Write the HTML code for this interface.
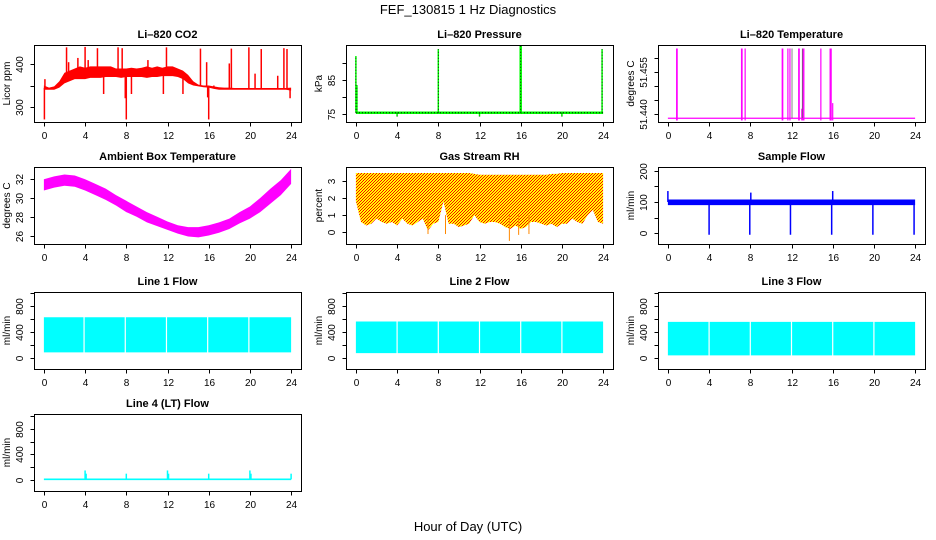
<!DOCTYPE html>
<html><head><meta charset="utf-8"><style>
html,body{margin:0;padding:0;background:#fff;}
svg{display:block;font-family:"Liberation Sans",Arial,sans-serif;}
</style></head><body>
<svg id="c" width="936" height="540" viewBox="0 0 936 540">
<defs>
<pattern id="rhpat" width="3" height="3" patternUnits="userSpaceOnUse">
<rect width="3" height="3" fill="#ffff00"/><rect x="0" y="0" width="1" height="1" fill="#ff0000"/><rect x="2" y="1" width="1" height="1" fill="#ff0000"/><rect x="1" y="2" width="1" height="1" fill="#ff0000"/>
</pattern>
</defs>
<text x="468" y="14" text-anchor="middle" font-size="13">FEF_130815  1 Hz Diagnostics</text>
<text x="468" y="531" text-anchor="middle" font-size="13">Hour of Day (UTC)</text>
</svg>
<script>
// ---- data ----
const hours = [0,4,8,12,16,20,24];
const halfHours = Array.from({length:49},(_, i)=>i*0.5);
const wholeHours = Array.from({length:25},(_, i)=>i);
const co2Lo = [340,340,340,345,355,360,365,365,365,368,368,368,370,370,370,368,370,370,370,370,368,370,370,372,372,372,370,365,355,350,348,346,345,342,340,340,340,340,340,340,340,340,340,340,340,340,340,340,338];
const co2Hi = [350,345,348,360,380,385,390,395,392,395,395,395,395,395,390,390,390,392,390,392,395,392,395,392,395,395,390,385,375,360,352,350,350,348,346,345,345,344,344,344,344,344,344,344,344,344,344,344,345];
const co2SpikeT = [0.05,0.1,2.2,2.4,3.3,4.0,4.3,5.2,5.8,7.2,7.6,7.9,8.0,8.5,10.1,11.6,11.9,13.5,15.2,15.8,15.9,16.0,16.5,18.0,18.2,19.9,20.5,21.1,22.7,23.3,23.6,23.9];
const co2SpikeV = [270,365,440,405,415,441,410,438,330,440,438,320,270,330,410,330,440,330,437,405,322,270,350,402,437,440,378,436,373,438,436,320];
const presBase = 75.5;
const presSpikeT = [0.0,0.1,8.0,16.0,23.9,4.0,12.0,20.0];
const presSpikeV = [92,83.5,94,95,94,74.4,74.4,74.4];
const tempBase = 51.4386;
const tempSpikeT = [0.85,0.9,7.15,7.2,7.5,11.1,11.15,11.65,11.85,12.7,12.75,13.0,13.1,13.2,14.85,15.75,15.8,15.85,16.0];
const tempSpikeV = [51.4635,51.4635,51.4635,51.4635,51.4635,51.4635,51.4635,51.4635,51.4635,51.4635,51.4635,51.4420,51.4635,51.4635,51.4635,51.4635,51.4635,51.4635,51.4440];
const ambLo = [30.8,31.1,31.3,31.2,30.8,30.3,29.8,29.2,28.5,28.0,27.4,27.0,26.6,26.2,25.9,25.8,26.0,26.3,26.7,27.3,27.8,28.5,29.4,30.3,31.5];
const ambHi = [32.0,32.3,32.5,32.4,32.0,31.5,31.0,30.3,29.7,29.1,28.5,28.0,27.5,27.1,26.9,26.9,27.1,27.4,27.8,28.5,29.1,30.0,31.0,31.9,33.1];
const rhLo = [1.8,0.6,0.4,0.5,0.8,0.6,0.5,0.6,0.4,0.8,0.5,0.4,0.6,0.8,0.1,0.5,0.6,1.8,0.5,0.5,0.3,0.4,0.5,1.0,0.6,0.5,0.6,0.6,0.5,0.3,0.2,0.4,0.2,0.3,0.6,0.6,0.5,0.4,0.5,0.3,0.5,0.5,0.8,0.6,0.5,1.0,1.3,0.6,0.5];
const rhHi = [3.45,3.45,3.45,3.45,3.45,3.45,3.45,3.45,3.45,3.45,3.45,3.45,3.45,3.45,3.45,3.45,3.45,3.45,3.45,3.45,3.45,3.45,3.45,3.4,3.35,3.35,3.35,3.35,3.35,3.35,3.35,3.35,3.35,3.35,3.35,3.35,3.35,3.35,3.4,3.4,3.45,3.45,3.45,3.45,3.45,3.45,3.45,3.45,3.45];
const rhSpikeT = [7.0,8.7,14.9,15.8,16.8];
const rhSpikeV = [-0.1,-0.1,-0.5,-0.15,-0.1];
const sampleLo = 90, sampleHi = 108;
const sampleSpikeT = [0.0,4.0,7.95,8.05,11.9,15.9,16.0,19.9,23.9];
const sampleSpikeV = [135,-5,-5,130,-5,-5,135,-5,-5];
const flowGapT = [3.9,7.9,11.9,15.9,19.9];
const line1Lo = 87, line1Hi = 632;
const line2Lo = 75, line2Hi = 565;
const line3Lo = 40, line3Hi = 560;
const line4Base = 12;
const line4SpikeT = [4.0,4.1,8.0,12.0,12.1,16.0,20.0,20.1,24.0];
const line4SpikeV = [150,100,100,150,100,100,150,100,100];

// ---- layout ----
const svg = document.getElementById('c');
const NS = 'http://www.w3.org/2000/svg';
const colLeft = [34,346,658], rowTop = [45,167,292,414], W = 267, H = 77;
function mk(tag, attrs, parent){const e=document.createElementNS(NS,tag);for(const k in attrs)e.setAttribute(k,attrs[k]);(parent||svg).appendChild(e);return e;}

function panel(c, r, title, ylab, dom, ticks, labels, name){
  const L=colLeft[c], T=rowTop[r];
  const g = mk('g',{});
  
  
  const p = {L,T,g,
    sx:x=>L+(x+0.96)/25.92*W,
    sy:v=>T+(dom[1]-v)/(dom[1]-dom[0])*H};
  const clip = mk('clipPath',{id:'cl'+name},g);
  mk('rect',{x:L,y:T,width:W,height:H},clip);
  p.plot = mk('g',{'clip-path':'url(#cl'+name+')'},g);
  
  
  const box = mk('rect',{x:L+0.5,y:T+0.5,width:W,height:H,fill:'none',stroke:'#000'},g);
  
  
  const t = mk('text',{x:L+W/2,y:T-7,'text-anchor':'middle','font-size':11,'font-weight':'bold'},g);
  t.textContent = title;
  
  
  // x axis
  const xa = mk('g',{},g);
  
  
  const yb = T+H+0.5;
  mk('line',{x1:p.sx(0),x2:p.sx(24),y1:yb,y2:yb,stroke:'#000'},xa);
  hours.forEach(h=>{
    const x=Math.round(p.sx(h))+0.5;
    mk('line',{x1:x,x2:x,y1:yb,y2:yb+4,stroke:'#000'},xa);
    const tx=mk('text',{x:x,y:T+H+17,'text-anchor':'middle','font-size':10},xa);
    tx.textContent=h;
  });
  // y axis
  const ya = mk('g',{},g);
  
  
  const xl = L+0.5;
  mk('line',{x1:xl,x2:xl,y1:p.sy(ticks[0]),y2:p.sy(ticks[ticks.length-1]),stroke:'#000'},ya);
  ticks.forEach((v,i)=>{
    const y=Math.round(p.sy(v))+0.5;
    mk('line',{x1:xl-4,x2:xl,y1:y,y2:y,stroke:'#000'},ya);
    if(labels[i]!==''){
      const tx=mk('text',{x:L-11,y:y,'text-anchor':'middle','font-size':10,transform:`rotate(-90 ${L-11} ${y})`},ya);
      tx.textContent=labels[i];
    }
  });
  const yl = mk('text',{x:L-24,y:T+H/2,'text-anchor':'middle','font-size':10,transform:`rotate(-90 ${L-24} ${T+H/2})`},g);
  yl.textContent = ylab;
  
  
  return p;
}
function band(p, xs, lo, hi, fill){
  let pts=[];
  xs.forEach((x,i)=>pts.push(p.sx(x)+','+p.sy(hi[i])));
  for(let i=xs.length-1;i>=0;i--) pts.push(p.sx(xs[i])+','+p.sy(lo[i]));
  return mk('polygon',{points:pts.join(' '),fill:fill,stroke:'none'},p.plot);
}
function vline(p,x,v1,v2,col,w){
  return mk('line',{x1:p.sx(x),x2:p.sx(x),y1:p.sy(v1),y2:p.sy(v2),stroke:col,'stroke-width':w||1.2},p.plot);
}
function interp(xs,ys,x){for(let i=0;i<xs.length-1;i++){if(x<=xs[i+1]){const f=(x-xs[i])/(xs[i+1]-xs[i]);return ys[i]+f*(ys[i+1]-ys[i]);}}return ys[ys.length-1];}

// CO2
let p = panel(0,0,'Li–820 CO2','Licor ppm',[264,445.5],[300,350,400],['300','','400'],'co2');
band(p,halfHours,co2Lo,co2Hi,'#ff0000');
co2SpikeT.forEach((t,i)=>vline(p,t,(interp(halfHours,co2Lo,t)+interp(halfHours,co2Hi,t))/2,co2SpikeV[i],'#ff0000',1.5));

// Pressure
p = panel(1,0,'Li–820 Pressure','kPa',[72.8,95.2],[75,80,85,90],['75','','85',''],'pressure');
mk('line',{x1:p.sx(0),x2:p.sx(24),y1:p.sy(presBase),y2:p.sy(presBase),stroke:'#00ff00','stroke-width':2.5},p.plot);
mk('line',{x1:p.sx(0),x2:p.sx(24),y1:p.sy(presBase),y2:p.sy(presBase),stroke:'#000','stroke-width':1,'stroke-dasharray':'1 2'},p.plot);
presSpikeT.forEach((t,i)=>{vline(p,t,presBase,presSpikeV[i],'#00ff00',i===3?2.5:1.5);vline(p,t,presBase,presSpikeV[i],'#000',0.8).setAttribute('stroke-dasharray','1 2');});

// Li-820 temp
p = panel(2,0,'Li–820 Temperature','degrees C',[51.43725,51.46475],[51.440,51.445,51.450,51.455,51.460],['51.440','','','51.455',''],'licor-temp');
mk('line',{x1:p.sx(0),x2:p.sx(24),y1:p.sy(tempBase),y2:p.sy(tempBase),stroke:'#ff00ff','stroke-width':1.2},p.plot);
tempSpikeT.forEach((t,i)=>vline(p,t,51.4378,tempSpikeV[i],'#ff00ff',1.2));
vline(p,12.05,tempBase,51.4635,'#666',0.8);vline(p,13.05,tempBase,51.4635,'#666',0.8);

// Ambient
p = panel(0,1,'Ambient Box Temperature','degrees C',[25.1,33.3],[26,28,30,32],['26','28','30','32'],'ambient-temp');
band(p,wholeHours,ambLo,ambHi,'#ff00ff');

// RH
p = panel(1,1,'Gas Stream RH','percent',[-0.68,3.8],[0,1,2,3],['0','1','2','3'],'rh');
band(p,halfHours,rhLo,rhHi,'url(#rhpat)');
rhSpikeT.forEach((t,i)=>vline(p,t,1,rhSpikeV[i],'#ff8800',1));

// Sample flow
p = panel(2,1,'Sample Flow','ml/min',[-34.6,212],[0,50,100,150,200],['0','','100','','200'],'sample-flow');
band(p,[0,24],[sampleLo,sampleLo],[sampleHi,sampleHi],'#0000ff');
sampleSpikeT.forEach((t,i)=>vline(p,t,100,sampleSpikeV[i],'#0000ff',1.5));

// Line flows
const flowTicks=[0,200,400,600,800,1000], flowLabels=['0','','400','','800',''];
function flowPanel(c,r,title,lo,hi,name,gaps){
  const q = panel(c,r,title,'ml/min',[-170,1022],flowTicks,flowLabels,name);
  band(q,[0,24],[lo,lo],[hi,hi],'#00ffff');
  gaps.forEach(t=>mk('line',{x1:q.sx(t),x2:q.sx(t),y1:q.sy(hi+20),y2:q.sy(lo-20),stroke:'#fff','stroke-width':1.2},q.plot));
  return q;
}
flowPanel(0,2,'Line 1 Flow',line1Lo,line1Hi,'line1-flow',flowGapT);
flowPanel(1,2,'Line 2 Flow',line2Lo,line2Hi,'line2-flow',flowGapT.map(t=>t+0.1));
flowPanel(2,2,'Line 3 Flow',line3Lo,line3Hi,'line3-flow',flowGapT.map(t=>t+0.1));
p = panel(0,3,'Line 4 (LT) Flow','ml/min',[-170,1030],flowTicks,flowLabels,'line4-flow');
band(p,[0,24],[line4Base-12,line4Base-12],[line4Base+12,line4Base+12],'#00ffff');
line4SpikeT.forEach((t,i)=>vline(p,t,line4Base,line4SpikeV[i],'#00ffff',1.5));
</script>
</body></html>
